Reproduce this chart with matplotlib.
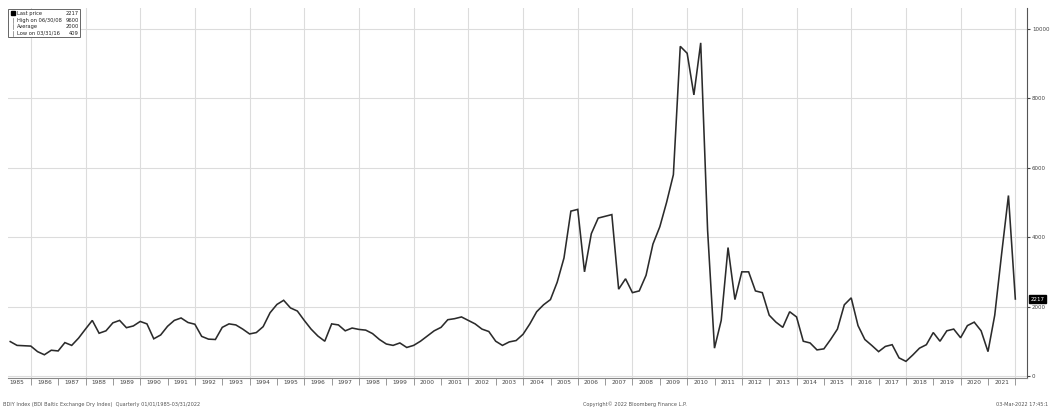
import numpy as np
import pandas as pd
import matplotlib
matplotlib.use("Agg")
import matplotlib.pyplot as plt

# ---- data (quarterly index levels) ----
quarter_ends = pd.date_range("1985-03-31", periods=148, freq="QE")
index_values = [
    990, 880, 870, 860, 700, 610, 740, 720, 960, 880,
    1090, 1350, 1600, 1230, 1300, 1530, 1600, 1390, 1440, 1570,
    1500, 1070, 1180, 1430, 1600, 1670, 1540, 1490, 1140, 1060,
    1050, 1400, 1500, 1470, 1350, 1210, 1250, 1420, 1820, 2060,
    2180, 1960, 1870, 1600, 1350, 1150, 1000, 1500, 1470, 1300,
    1380, 1340, 1320, 1220, 1050, 920, 880, 950, 820, 880,
    1000, 1150, 1300, 1400, 1620, 1650, 1700, 1600, 1500, 1350,
    1280, 1000, 880, 980, 1020, 1200, 1500, 1850, 2050, 2200,
    2700, 3400, 4750, 4800, 3000, 4100, 4550, 4600, 4650, 2500,
    2800, 2400, 2450, 2900, 3800, 4300, 5000, 5800, 9500, 9300,
    8100, 9600, 4200, 800, 1600, 3700, 2200, 3000, 3000, 2450,
    2400, 1750, 1550, 1400, 1850, 1700, 1000, 950, 750, 780,
    1050, 1350, 2050, 2250, 1450, 1050, 880, 700, 850, 900,
    520, 420, 600, 800, 900, 1250, 1000, 1300, 1350, 1100,
    1450, 1550, 1300, 700, 1750, 3500, 5200, 2217,
]
year_labels = [str(y) for y in range(1985, 2022)]
y_ticks = [0, 2000, 4000, 6000, 8000, 10000]
legend_rows = [
    ("Last price", "2217"),
    ("High on 06/30/08", "9600"),
    ("Average", "2000"),
    ("Low on 03/31/16", "409"),
]
footer_left = "BDIY Index (BDI Baltic Exchange Dry Index)  Quarterly 01/01/1985-03/31/2022"
footer_mid = "Copyright\u00a9 2022 Bloomberg Finance L.P."
footer_right = "03-Mar-2022 17:45:1"

# ---- figure ----
plt.rcParams["font.family"] = ["DejaVu Sans"]
fig = plt.figure(figsize=(10.5, 4.11), dpi=100)
fig.patch.set_facecolor("white")
# axes: top at y=8 px, bottom at y=378 px
ax = fig.add_axes([0.0076, 1 - 378 / 411, 0.9705, 370 / 411])
ax.set_facecolor("white")

ax.plot(quarter_ends, index_values, color="#2b2b2b", lw=1.15, solid_joinstyle="miter")

x0 = pd.Timestamp("1985-03-01")
x1 = pd.Timestamp("2022-06-05")
ax.set_xlim(x0, x1)
ax.set_ylim(-60, 10605)

# horizontal grid
for v in y_ticks:
    ax.axhline(v, color="#dcdcdc", lw=0.8, zorder=0)
# vertical grid every two years
for y in range(1986, 2023, 2):
    ax.axvline(pd.Timestamp(f"{y}-01-01"), color="#dcdcdc", lw=0.8, zorder=0)

# right axis ticks/labels
ax.yaxis.tick_right()
ax.set_yticks(y_ticks)
ax.set_yticklabels([str(v) for v in y_ticks], fontsize=4.0, color="#444444")
ax.tick_params(axis="y", direction="out", length=2.5, width=0.8, color="#444444", pad=1.0)

# x axis: year labels centered in years, separators at year boundaries
ax.set_xticks([pd.Timestamp(f"{y}-01-01") for y in range(1986, 2023)])
ax.set_xticklabels([])
ax.tick_params(axis="x", direction="out", length=5, width=0.6, color="#888888")
ax.set_xticks([pd.Timestamp(f"{lab}-07-01") for lab in year_labels], minor=True)
ax.set_xticklabels(year_labels, minor=True, fontsize=4.2, color="#444444")
ax.tick_params(axis="x", which="minor", length=0, pad=1.5)

for s in ["top", "left"]:
    ax.spines[s].set_visible(False)
ax.spines["right"].set_color("#555555")
ax.spines["right"].set_linewidth(0.8)
ax.spines["bottom"].set_color("#888888")
ax.spines["bottom"].set_linewidth(0.8)

# last price tag
last = index_values[-1]
ax.annotate(str(last), xy=(1.0, last), xycoords=("axes fraction", "data"),
            xytext=(2.5, 0), textcoords="offset points", fontsize=4.0, color="white",
            va="center", ha="left",
            bbox=dict(boxstyle="square,pad=0.25", fc="black", ec="black"))

# legend box (pixel layout: x 8-80, y 8-36)
ax_h = 370.0
lx, lw_ = 0.0005, 72 / 1019
ly_top = 1 - 1 / ax_h
lh = 28 / ax_h
box = plt.Rectangle((lx, ly_top - lh), lw_, lh, transform=ax.transAxes,
                    fill=True, fc="white", ec="#666666", lw=0.7, zorder=5)
ax.add_patch(box)
for i, (name, val) in enumerate(legend_rows):
    yy = ly_top - (4.5 + i * 6.6) / ax_h
    if i == 0:
        ax.plot([lx + 0.004], [yy], marker="s", ms=3.2, color="black",
                transform=ax.transAxes, zorder=6, clip_on=False)
    else:
        ax.plot([lx + 0.004, lx + 0.004], [yy - 2.5 / ax_h, yy + 2.5 / ax_h],
                color="#777777", lw=0.5, transform=ax.transAxes, zorder=6)
    ax.text(lx + 0.0085, yy, name, fontsize=3.7, va="center", ha="left",
            transform=ax.transAxes, zorder=6, color="#222222")
    ax.text(lx + lw_ - 0.0015, yy, val, fontsize=3.7, va="center", ha="right",
            transform=ax.transAxes, zorder=6, color="#222222")

# footer
fig.text(0.003, 0.009, footer_left, fontsize=3.6, color="#555555", ha="left", va="bottom")
fig.text(0.605, 0.009, footer_mid, fontsize=3.6, color="#555555", ha="center", va="bottom")
fig.text(0.998, 0.009, footer_right, fontsize=3.6, color="#555555", ha="right", va="bottom")

fig.savefig("out.png", dpi=100, facecolor="white")
